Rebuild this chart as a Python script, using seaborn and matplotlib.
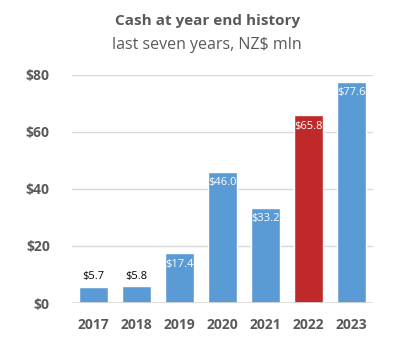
import matplotlib
matplotlib.use("Agg")
import matplotlib.pyplot as plt
import seaborn as sns
import pandas as pd

years = ["2017", "2018", "2019", "2020", "2021", "2022", "2023"]
cash = [5.7, 5.8, 17.4, 46.0, 33.2, 65.8, 77.6]
highlight_year = "2022"
y_ticks = [0, 20, 40, 60, 80]

BLUE = "#5B9BD5"
RED = "#C0292A"
GREY_TEXT = "#595959"

sns.set_theme(style="white")
plt.rcParams["font.family"] = ["Open Sans", "DejaVu Sans"]

df = pd.DataFrame({"year": years, "cash": cash})
palette = {y: (RED if y == highlight_year else BLUE) for y in years}

fig = plt.figure(figsize=(3.99, 3.42), dpi=100)
ax = fig.add_axes([0.1805, 0.114, 0.7545, 0.667])

sns.barplot(data=df, x="year", y="cash", hue="year", palette=palette,
            width=0.67, saturation=1, legend=False, ax=ax, zorder=3)

ax.set_ylim(0, 80)
ax.set_xlim(-0.5, len(years) - 0.5)
ax.set_yticks(y_ticks)
ax.set_yticklabels([f"${v}" for v in y_ticks])
ax.yaxis.grid(True, color="#D9D9D9", linewidth=1, zorder=0)
ax.set_axisbelow(True)
for s in ax.spines.values():
    s.set_visible(False)
ax.axhline(0, color="#D9D9D9", linewidth=1.2, zorder=4)
ax.tick_params(axis="both", length=0, labelsize=10, labelcolor=GREY_TEXT)
ax.tick_params(axis="y", pad=16)
ax.tick_params(axis="x", pad=11)
for lbl in ax.get_xticklabels() + ax.get_yticklabels():
    lbl.set_fontweight("bold")
ax.set_xlabel("")
ax.set_ylabel("")

for i, v in enumerate(cash):
    if v < 10:
        ax.text(i, v + 1.5, f"${v:.1f}", ha="center", va="bottom",
                fontsize=8, color="black", zorder=5)
    else:
        ax.text(i, v - 1.8, f"${v:.1f}", ha="center", va="top",
                fontsize=8, color="white", zorder=5)

fig.text(0.519, 0.94, "Cash at year end history", ha="center", va="center",
         fontsize=11, fontweight="bold", color=GREY_TEXT)
fig.text(0.519, 0.868, "last seven years, NZ$ mln", ha="center", va="center",
         fontsize=11.5, color=GREY_TEXT)

fig.savefig("out.png", dpi=100)
